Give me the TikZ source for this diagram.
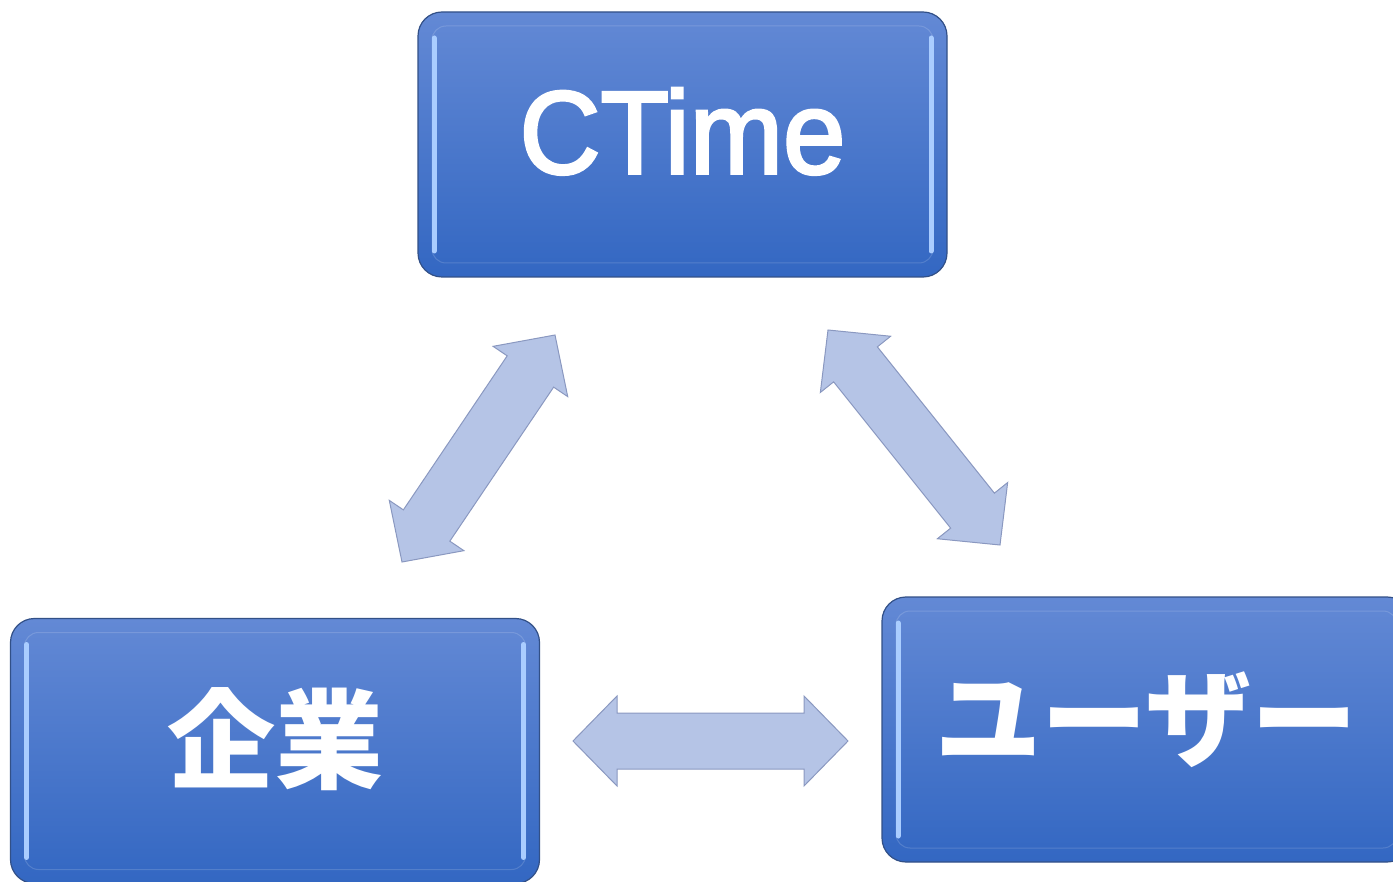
\documentclass[tikz,border=0pt]{standalone}
\usepackage{fontspec}
\setmainfont{Liberation Sans}
\newfontfamily\namefont[FakeStretch=0.95, FakeBold=2.5]{Liberation Sans}
\newfontfamily\jpfont{Noto Sans CJK JP}
\usepackage{tikz}
\usetikzlibrary{calc}

\definecolor{boxtop}{RGB}{99,137,213}
\definecolor{boxbot}{RGB}{51,103,194}
\definecolor{boxedge}{RGB}{50,80,135}
\definecolor{boxglow}{RGB}{170,205,255}
\definecolor{arrowfill}{RGB}{181,196,230}
\definecolor{arrowedge}{RGB}{138,152,192}

\tikzset{
    block/.style={rounded corners=24pt, minimum width=529pt, minimum height=265pt, inner sep=0pt,
        top color=boxtop, bottom color=boxbot, draw=boxedge, line width=1.2pt,
        text=white, text height=80pt, text depth=22pt,
        path picture={
            \draw [white, opacity=0.15, line width=1pt, rounded corners=14pt]
                ([shift={(14pt,-14pt)}]path picture bounding box.north west) rectangle
                ([shift={(-14pt,14pt)}]path picture bounding box.south east);
            \draw [boxglow, line width=5pt, line cap=round]
                ([shift={(16pt,-26pt)}]path picture bounding box.north west) --
                ([shift={(16pt,26pt)}]path picture bounding box.south west);
            \draw [boxglow, line width=5pt, line cap=round]
                ([shift={(-16pt,-26pt)}]path picture bounding box.north east) --
                ([shift={(-16pt,26pt)}]path picture bounding box.south east);
        }},
    link/.style={fill=arrowfill, draw=arrowedge, line width=1pt, line join=miter},
}

% block arrow with a head at both ends
\newcommand{\twohead}[2]{%
    \filldraw [link] (#1)
        -- ($(#1)!44pt!(#2)!45pt!90:(#2)$) -- ($(#1)!44pt!(#2)!28pt!90:(#2)$)
        -- ($(#2)!44pt!(#1)!28pt!-90:(#1)$) -- ($(#2)!44pt!(#1)!45pt!-90:(#1)$)
        -- (#2)
        -- ($(#2)!44pt!(#1)!45pt!90:(#1)$) -- ($(#2)!44pt!(#1)!28pt!90:(#1)$)
        -- ($(#1)!44pt!(#2)!28pt!-90:(#2)$) -- ($(#1)!44pt!(#2)!45pt!-90:(#2)$)
        -- cycle;}

\begin{document}
\begin{tikzpicture}
    \useasboundingbox (0pt, 0pt) rectangle (1393pt, -882pt);
    \node (1) [block] at (682.5pt, -144.5pt) {\fontsize{118pt}{118pt}\selectfont\namefont CTime};
    \node (2) [block] at (275pt, -751pt) {\fontsize{108pt}{108pt}\selectfont\jpfont\bfseries 企業};
    \node (3) [block] at (1146.5pt, -729.5pt) {\fontsize{106pt}{106pt}\selectfont\jpfont\bfseries ユーザー};
    \coordinate (4) at (555pt, -335pt);
    \coordinate (5) at (402pt, -562pt);
    \coordinate (6) at (828pt, -330pt);
    \coordinate (7) at (1000pt, -545pt);
    \coordinate (8) at (573pt, -741pt);
    \coordinate (9) at (848pt, -741pt);
    \twohead{4}{5}
    \twohead{6}{7}
    \twohead{8}{9}
\end{tikzpicture}
\end{document}
